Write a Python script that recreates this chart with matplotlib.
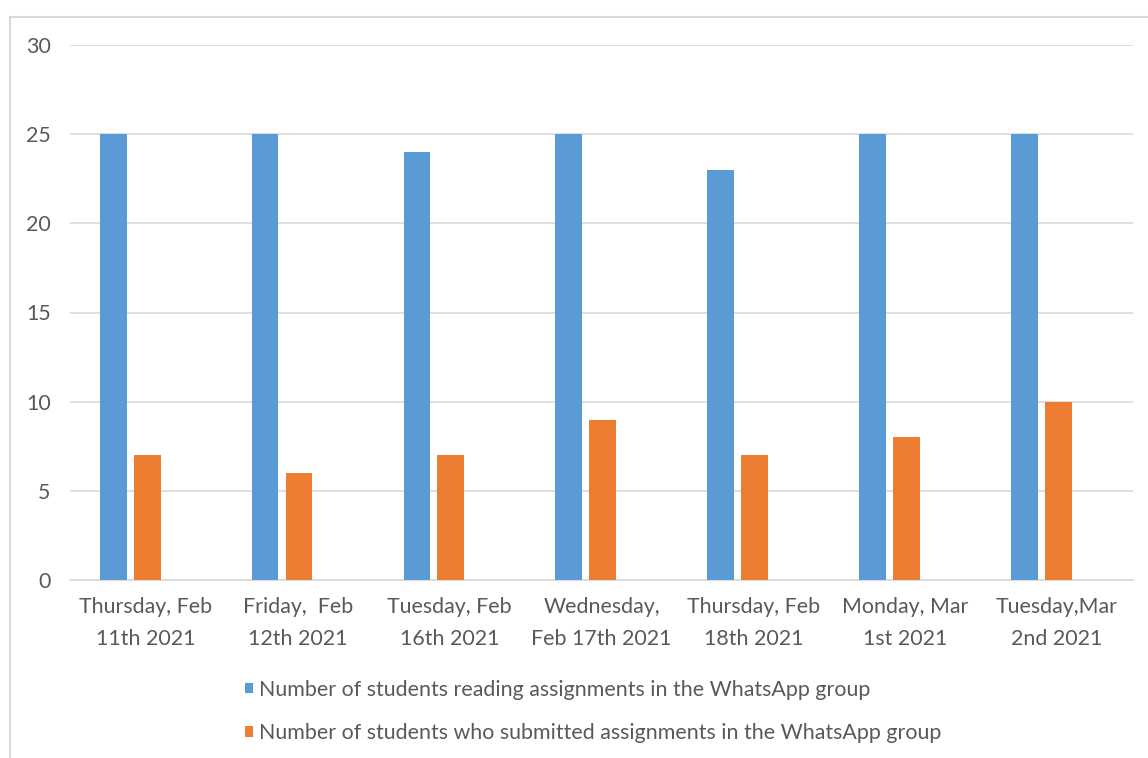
import numpy as np
import matplotlib
matplotlib.use("Agg")
import matplotlib.pyplot as plt
from matplotlib.patches import Rectangle

dates = ["Thursday, Feb\n11th 2021", "Friday,  Feb\n12th 2021", "Tuesday, Feb\n16th 2021",
         "Wednesday,\nFeb 17th 2021", "Thursday, Feb\n18th 2021", "Monday, Mar\n1st 2021",
         "Tuesday,Mar\n2nd 2021"]
reading = [25, 25, 24, 25, 23, 25, 25]
submitted = [7, 6, 7, 9, 7, 8, 10]
series_names = ["Number of students reading assignments in the WhatsApp group",
                "Number of students who submitted assignments in the WhatsApp group"]

W, H = 1148, 758
plt.rcParams['font.family'] = ['Lato', 'DejaVu Sans']
fig = plt.figure(figsize=(W / 100, H / 100), dpi=100)
ax = fig.add_axes([70 / W, 1 - 580 / H, 1063 / W, 535 / H])

# outer chart frame
fig.add_artist(Rectangle((10 / W, -0.1), 1.2, 1 - 17 / H + 0.1, transform=fig.transFigure,
                         fill=False, edgecolor='#d9d9d9', linewidth=1.5))

x = np.arange(len(dates))
bw = 0.176
b1 = ax.bar(x - 0.215, reading, width=bw, color='#5B9BD5', zorder=3)
b2 = ax.bar(x + 0.008, submitted, width=bw, color='#ED7D31', zorder=3)

ax.set_xlim(-0.5, len(dates) - 0.5)
ax.set_ylim(0, 30)
ax.set_yticks(range(0, 31, 5))
ax.set_xticks(x)
ax.set_xticklabels(dates, linespacing=1.72)
ax.yaxis.grid(True, color='#d9d9d9', linewidth=1.2, zorder=0)
for s in ['top', 'right', 'left']:
    ax.spines[s].set_visible(False)
ax.spines['bottom'].set_color('#d9d9d9')
ax.spines['bottom'].set_linewidth(1.2)
ax.tick_params(axis='both', length=0, colors='#595959', labelsize=15.4)
ax.tick_params(axis='y', pad=14)
ax.tick_params(axis='x', pad=12.5)

fig.legend([b1, b2], series_names, loc='upper left', bbox_to_anchor=(234 / W, 1 - 669 / H),
           frameon=False, fontsize=15.4, labelcolor='#595959', handlelength=0.4,
           handleheight=0.4, handletextpad=0.25, labelspacing=1.1, borderpad=0)

fig.savefig("out.png", dpi=100)
